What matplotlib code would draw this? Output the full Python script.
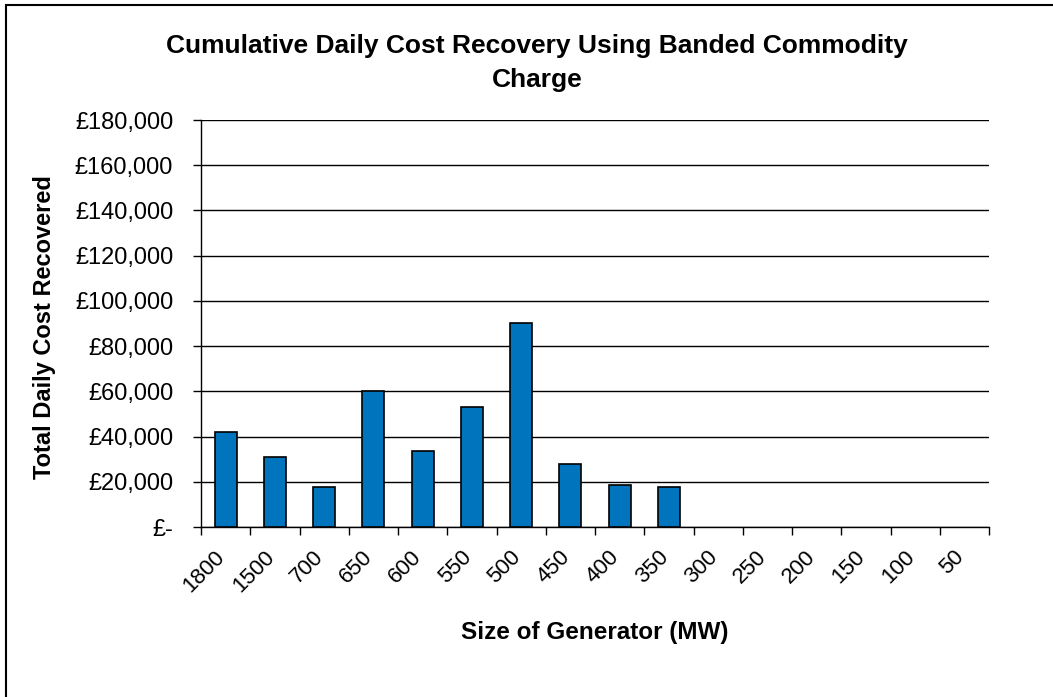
import matplotlib
matplotlib.use('Agg')
from matplotlib import pyplot as plt
from matplotlib.patches import Rectangle
import numpy as np

plt.rcParams['font.family'] = ['Liberation Sans', 'DejaVu Sans']

# generator size bands (MW) and cumulative daily recovery per band
sizes = ['1800', '1500', '700', '650', '600', '550', '500', '450',
         '400', '350', '300', '250', '200', '150', '100', '50']
recovered = [42000, 31000, 17700, 60200, 33700, 53100, 90400, 27900,
             18400, 17700, 0, 0, 0, 0, 0, 0]
yticks = [0, 20000, 40000, 60000, 80000, 100000, 120000, 140000, 160000, 180000]

def money(v):
    return '£-' if v == 0 else '£{:,.0f}'.format(v)

fig = plt.figure(figsize=(10.53, 6.97), dpi=100)
# chart frame
fig.patches.append(Rectangle((6/1053, -0.01), 1.02, 1 - 5/697 + 0.01,
                             transform=fig.transFigure, fill=False,
                             edgecolor='black', linewidth=1.5))

ax = fig.add_axes([201/1053, 1 - 527/697, 788/1053, 407/697])
x = np.arange(len(sizes))
ax.bar(x, recovered, width=0.45, color='#0075BE', edgecolor='black',
       linewidth=[1.2 if v else 0 for v in recovered], zorder=3)

ax.set_xlim(-0.5, len(sizes) - 0.5)
ax.set_ylim(0, 180000)
ax.set_yticks(yticks)
ax.set_yticklabels([money(v) for v in yticks], fontsize=17)
ax.yaxis.grid(True, color='black', linewidth=1, zorder=0)

# ticks sit on the category boundaries; rotated labels end just left of centre
ax.set_xticks(np.arange(len(sizes) + 1) - 0.5)
ax.set_xticklabels([])
ax.set_xticks(x - 0.23, minor=True)
ax.set_xticklabels(sizes, minor=True, rotation=45, ha='right', va='top',
                   rotation_mode='anchor', fontsize=16)
ax.tick_params(axis='x', which='major', direction='out', length=6, width=1)
ax.tick_params(axis='x', which='minor', length=0, pad=14)
ax.tick_params(axis='y', direction='out', length=6, width=1, pad=14)

for s in ['top', 'right']:
    ax.spines[s].set_visible(False)
for s in ['left', 'bottom']:
    ax.spines[s].set_linewidth(1)

fig.text(0.51, 1 - 63/697, 'Cumulative Daily Cost Recovery Using Banded Commodity\nCharge',
         ha='center', va='center', fontsize=19, fontweight='bold', linespacing=1.5)
fig.text(595/1053, 1 - 633/697, 'Size of Generator (MW)', ha='center', va='center',
         fontsize=17.5, fontweight='bold')
fig.text(45/1053, 1 - 327/697, 'Total Daily Cost Recovered', ha='center', va='center',
         rotation=90, fontsize=17, fontweight='bold')

fig.savefig('out.png', dpi=100)
